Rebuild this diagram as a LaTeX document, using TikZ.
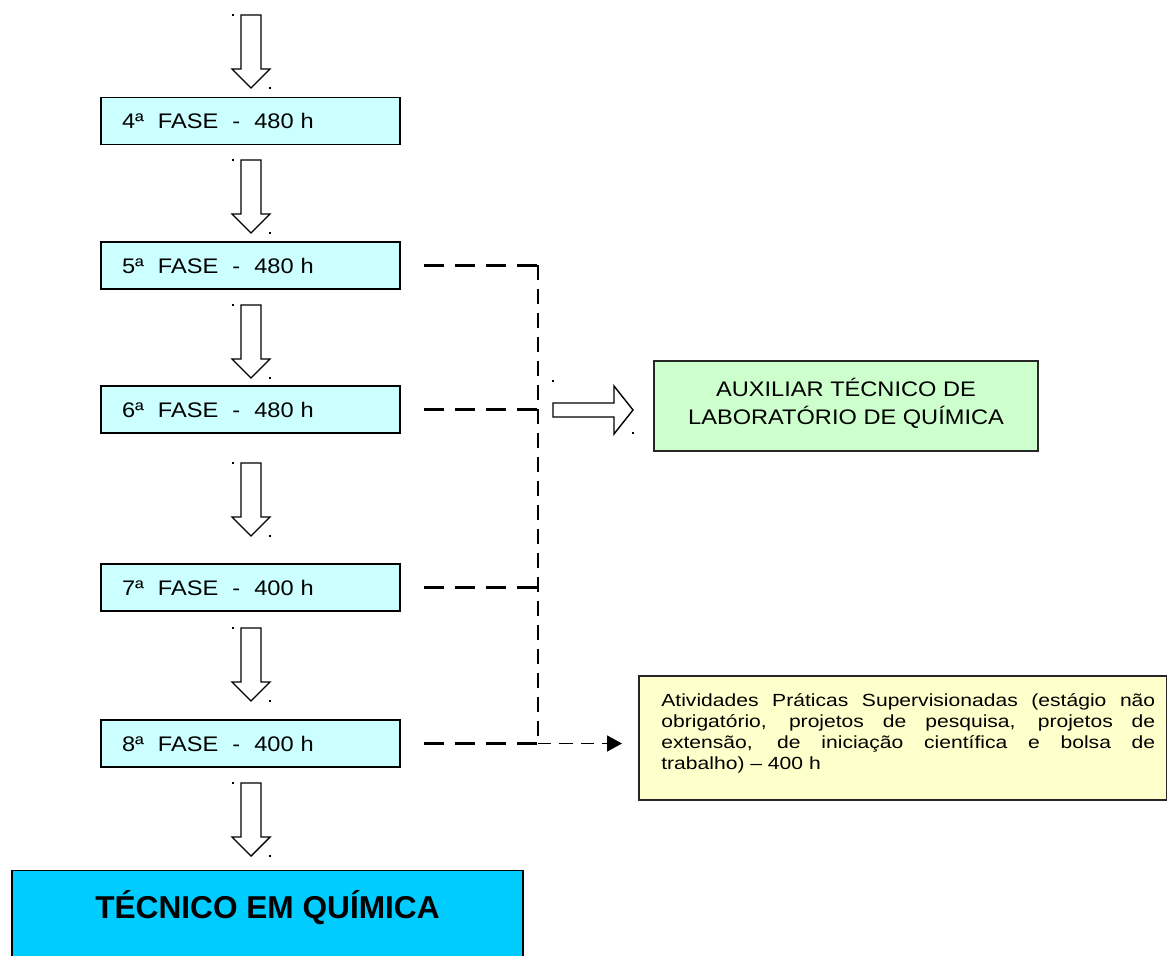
\documentclass[tikz,border=0pt]{standalone}
\usepackage{fontspec}
\setmainfont{Liberation Sans}
\newfontfamily\widefont[FakeStretch=1.12]{Liberation Sans}
\newfontfamily\apsfont[FakeStretch=1.2]{Liberation Sans}
\usetikzlibrary{arrows.meta,calc}
\definecolor{phasecol}{HTML}{CCFFFF}
\definecolor{auxcol}{HTML}{CCFFCC}
\definecolor{apscol}{HTML}{FFFFCC}
\definecolor{tecol}{HTML}{00CCFF}
\tikzset{
  phase/.style={draw=black, line width=1.1pt, fill=phasecol, minimum height=0.94cm,
    text width=5.14cm, inner xsep=0.42cm, align=left,
    font=\widefont\fontsize{12}{14}\selectfont},
  auxbox/.style={draw=black!85, line width=1pt, fill=auxcol, minimum width=7.68cm, minimum height=1.8cm},
  apsbox/.style={draw=black!85, line width=1pt, fill=apscol, minimum width=10.56cm, minimum height=2.48cm},
  tecbox/.style={draw=black, line width=1.1pt, fill=tecol, minimum width=10.22cm, minimum height=1.9cm},
  blockarr/.style={draw=black, line width=0.8pt, fill=white},
  dashh/.style={line width=1.2pt, dash pattern=on 0.4cm off 0.22cm},
  dashv/.style={line width=0.85pt, dash pattern=on 0.3cm off 0.18cm},
  dashs/.style={line width=0.95pt, dash pattern=on 0.27cm off 0.16cm},
  downarr/.pic={
    \draw[blockarr] (-10,0) -- (10,0) -- (10,54) -- (19,54) -- (0,73) -- (-19,54) -- (-10,54) -- cycle;
    \fill (-19,-1) rectangle (-17,1);
    \fill (18,72) rectangle (20,74);
  },
  rightarr/.pic={
    \draw[blockarr] (0,-7) -- (61,-7) -- (61,-24) -- (80,0) -- (61,24) -- (61,7) -- (0,7) -- cycle;
    \fill (-1,-30) rectangle (1,-28);
    \fill (79,22) rectangle (81,24);
  }
}
\begin{document}
\begin{tikzpicture}[x=0.02cm,y=-0.02cm]
\useasboundingbox (0,0) rectangle (1167,956);
\clip (0,0) rectangle (1167,956);

% phase boxes
\node[phase] (f4) at (250.5,121) {4ª\ \ FASE\ \ -\ \ 480 h};
\node[phase] (f5) at (250.5,265.5) {5ª\ \ FASE\ \ -\ \ 480 h};
\node[phase] (f6) at (250.5,409.5) {6ª\ \ FASE\ \ -\ \ 480 h};
\node[phase] (f7) at (250.5,587.5) {7ª\ \ FASE\ \ -\ \ 400 h};
\node[phase] (f8) at (250.5,743.5) {8ª\ \ FASE\ \ -\ \ 400 h};

% final box
\node[tecbox] (tec) at (267.5,918) {};
\node[font=\bfseries\fontsize{18}{21}\selectfont] (tectext) at (267.5,908) {TÉCNICO EM QUÍMICA};

% auxiliary box
\node[auxbox] (aux) at (846,406) {};
\node[align=center, font=\widefont\fontsize{12}{15.9}\selectfont, anchor=north] (auxtext) at (846,372) {AUXILIAR TÉCNICO DE\\LABORATÓRIO DE QUÍMICA};

% APS box
\node[apsbox] (aps) at (903,738) {};
\node[anchor=north west, text width=9.88cm, align=justify, inner sep=0pt,
  font=\apsfont\fontsize{10}{11.9}\selectfont] (apstext) at (661,693)
  {Atividades Práticas Supervisionadas (estágio não\linebreak obrigatório, projetos de pesquisa, projetos de\linebreak extensão, de iniciação científica e bolsa de\linebreak trabalho) – 400 h};

% block arrows
\pic at (251,15) {downarr};
\pic at (251,160) {downarr};
\pic at (251,305) {downarr};
\pic at (251,463) {downarr};
\pic at (251,628) {downarr};
\pic at (251,783) {downarr};
\pic at (553,410) {rightarr};

% dashed connectors
\path (f5.east) ++(137,0) coordinate (j5);
\path (f6.east) ++(137,0) coordinate (j6);
\path (f7.east) ++(137,0) coordinate (j7);
\path (f8.east) ++(137,0) coordinate (j8);
\coordinate (apsin) at (622,743.5);
\draw[dashh, shorten <=0.46cm] (f5.east) -- (j5);
\draw[dashh, shorten <=0.46cm] (f6.east) -- (j6);
\draw[dashh, shorten <=0.46cm] (f7.east) -- (j7);
\draw[dashh, shorten <=0.46cm] (f8.east) -- (j8);
\draw[dashv] (j5) -- (j8);
\draw[dashs, -{Triangle[length=0.3cm,width=0.32cm]}] (j8) -- (apsin);
\end{tikzpicture}
\end{document}
